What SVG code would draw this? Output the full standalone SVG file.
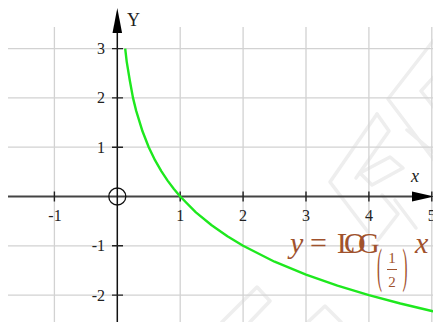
<svg xmlns="http://www.w3.org/2000/svg" width="433" height="322" viewBox="0 0 433 322">
<style>
.wm{fill:none;stroke:#eeeeee;stroke-width:3.5;stroke-linejoin:round;stroke-linecap:round}
.grid{stroke:#d2d2d2;stroke-width:1.3;fill:none}
.tick{stroke:#222;stroke-width:1.4}
.lbl{font-family:"Liberation Serif",serif;font-size:16px;fill:#222}
.xl{text-anchor:middle}
.yl{text-anchor:end}
.f{font-family:"Liberation Serif",serif;fill:#a0522d}
</style>
<rect width="433" height="322" fill="#ffffff"/>
<g id="watermark" class="wm">
<path d="M440 32 L388 99 L440 168"/>
<path d="M440 70 L421 91 L440 115"/>
<path d="M377 114 L330 182 L368 232"/>
<path d="M377 114 L389 131 L356 178"/>
<path d="M360 173 L390 157 L403 168 L372 185 Z"/>
<path d="M407 130 L433 152"/>
<path d="M382 195 L398 214 L378 240"/>
<path d="M395 200 L416 228"/>
<path d="M222 322 L257 287 L270 301 L250 322"/>
<path d="M308 322 L325 306 L341 322"/>
</g>
<g id="grid" class="grid">
<path d="M54.4 27V322M180.2 27V322M243.1 27V322M306 27V322M368.9 27V322M431.8 27V322"/>
<path d="M8 48.6H433M8 97.9H433M8 147.2H433M8 245.8H433M8 295.1H433"/>
</g>
<g id="axes">
<line x1="8" y1="196.5" x2="416" y2="196.5" stroke="#444" stroke-width="1.8"/>
<polygon points="412,191.5 434,196.5 412,201.5" fill="#000"/>
<line x1="117.3" y1="322" x2="117.3" y2="30" stroke="#111" stroke-width="1.5"/>
<polygon points="112.5,33 117.3,8 122.1,33" fill="#000"/>
<g class="tick">
<path d="M54.4 191.5V201.5M180.2 191.5V201.5M243.1 191.5V201.5M306 191.5V201.5M368.9 191.5V201.5M431.8 191.5V201.5"/>
<path d="M112 48.6H123M112 97.9H123M112 147.2H123M112 245.8H123M112 295.1H123"/>
</g>
<circle cx="117.3" cy="196.5" r="8.5" fill="none" stroke="#111" stroke-width="1.3"/>
</g>
<g id="labels" class="lbl">
<text class="xl" x="55" y="220.5">-1</text>
<text class="xl" x="180.2" y="220.5">1</text>
<text class="xl" x="243.1" y="220.5">2</text>
<text class="xl" x="306" y="220.5">3</text>
<text class="xl" x="368.9" y="220.5">4</text>
<text class="xl" x="431.8" y="220.5">5</text>
<text class="yl" x="105" y="54">3</text>
<text class="yl" x="105" y="103.3">2</text>
<text class="yl" x="105" y="152.6">1</text>
<text class="yl" x="105" y="251.2">-1</text>
<text class="yl" x="105" y="300.5">-2</text>
<text x="127" y="26" style="font-size:18px">Y</text>
<text x="411" y="182" style="font-size:18px;font-style:italic">x</text>
</g>
<g id="curve">
<polyline fill="none" stroke="#1ee81e" stroke-width="2.4" stroke-linejoin="round" points="125.2,48.6 126.7,61.6 129.9,81 133,97.9 136.2,110.9 142.5,131.3 148.75,147.2 155,160.2 161.3,171.1 167.6,180.6 173.9,189 180.2,196.5 195.9,212.4 211.65,225.3 227.4,236.3 243.1,245.8 274.55,261.7 306,274.6 337.45,285.6 368.9,295.1 400.35,303.5 431.8,311 438.1,312.4"/>
</g>
<g id="formula" class="f">
<text x="290" y="253" style="font-size:30px;font-style:italic">y</text>
<text x="310" y="253" style="font-size:30px">=</text>
<text y="253" style="font-size:30px"><tspan x="337">L</tspan><tspan x="344">O</tspan><tspan x="358">G</tspan></text>
<text x="415" y="253" style="font-size:30px;font-style:italic">x</text>
<text transform="translate(377,282) scale(1,3.2)" style="font-size:15px">(</text>
<text transform="translate(402.5,282) scale(1,3.2)" style="font-size:15px">)</text>
<text x="392" y="263" style="font-size:15px;text-anchor:middle">1</text>
<line x1="387" y1="269.5" x2="397" y2="269.5" stroke="#a0522d" stroke-width="1"/>
<text x="392" y="287" style="font-size:15px;text-anchor:middle">2</text>
</g>
</svg>
